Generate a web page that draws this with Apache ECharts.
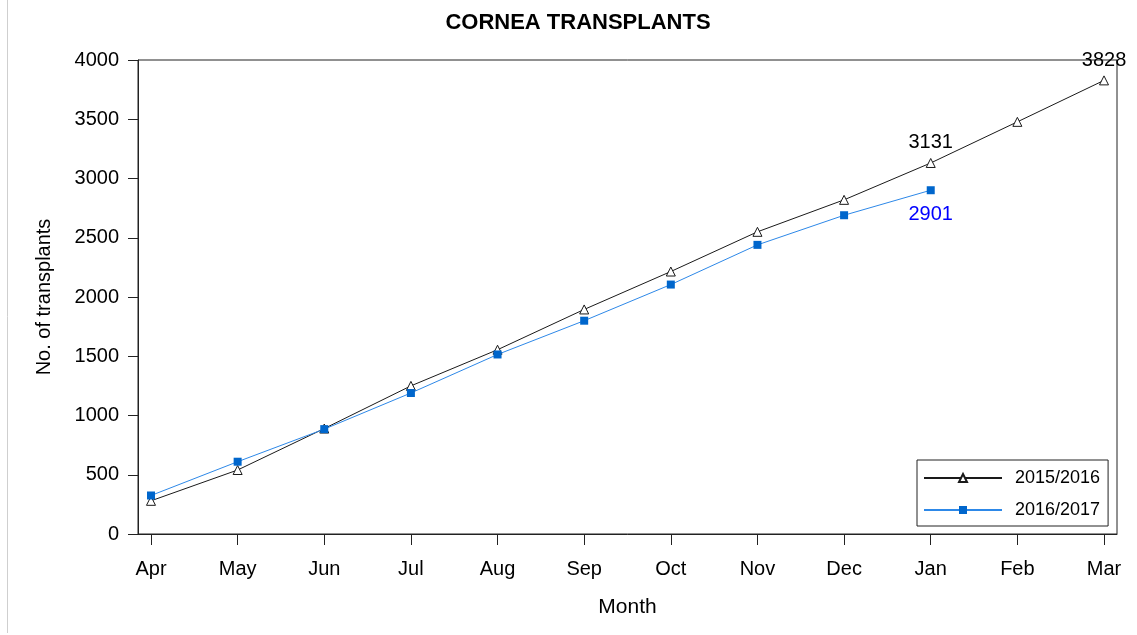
<!DOCTYPE html>
<html>
<head>
<meta charset="utf-8">
<script src="https://cdn.jsdelivr.net/npm/echarts@6/dist/echarts.min.js"></script>
<style>
  html, body { margin: 0; padding: 0; background: #fff; }
  #chart { width: 1137px; height: 635px; }
</style>
</head>
<body>
<div id="chart"></div>
<script>
const months = ["Apr", "May", "Jun", "Jul", "Aug", "Sep", "Oct", "Nov", "Dec", "Jan", "Feb", "Mar"]
const season1516 = [280, 540, 890, 1250, 1555, 1895, 2215, 2550, 2820, 3131, 3478, 3828]
const season1617 = [325, 610, 885, 1190, 1515, 1800, 2105, 2440, 2690, 2901]
const yTicks = [0, 500, 1000, 1500, 2000, 2500, 3000, 3500, 4000]
const labelled1516 = [9, 11]
const labelled1617 = [9]

const font = "Liberation Sans, Arial, sans-serif"
const chart = echarts.init(document.getElementById("chart"))

const toPoints = (arr, labelled, labelOpt) =>
	arr.map((v, i) => {
		if (labelled.includes(i)) {
			return { value: [i, v], label: Object.assign({ show: true }, labelOpt) }
		}
		return [i, v]
	})

let options = {
	animation: false,
	backgroundColor: "#fff",
	title: {
		text: "CORNEA TRANSPLANTS",
		left: 573,
		top: 7,
		textAlign: "center",
		textStyle: { fontFamily: font, fontSize: 22, fontWeight: "bold", color: "#000" },
	},
	// thin grey page edge on the left of the reference
	graphic: [
		{
			type: "line",
			shape: { x1: 7.5, y1: 0, x2: 7.5, y2: 633 },
			style: { stroke: "#cfcfcf", lineWidth: 1 },
			silent: true,
		},
	],
	grid: {
		left: 138,
		right: 20,
		top: 60,
		bottom: 101,
		show: true,
		borderColor: "#222",
		borderWidth: 1,
		backgroundColor: "transparent",
	},
	legend: {
		orient: "vertical",
		left: 917,
		top: 460,
		padding: [9, 8, 7, 6],
		itemGap: 14,
		itemWidth: 78,
		itemHeight: 10,
		borderColor: "#222",
		borderWidth: 1,
		backgroundColor: "#fff",
		textStyle: { fontFamily: font, fontSize: 18, color: "#000", padding: [0, 0, 0, 8] },
		data: ["2015/2016", "2016/2017"],
	},
	xAxis: {
		type: "value",
		min: -0.15,
		max: 11.15,
		name: "Month",
		nameLocation: "middle",
		nameGap: 63,
		nameTextStyle: { fontFamily: font, fontSize: 21, color: "#000" },
		splitLine: { show: false },
		axisLine: { onZero: false, lineStyle: { color: "#222" } },
		axisTick: { show: true, length: 11, inside: false, customValues: months.map((m, i) => i), lineStyle: { color: "#222" } },
		axisLabel: {
			customValues: months.map((m, i) => i),
			formatter: (v) => months[Math.round(v)],
			fontFamily: font,
			fontSize: 20,
			color: "#000",
			margin: 25,
		},
	},
	yAxis: {
		type: "value",
		min: 0,
		max: 4000,
		interval: 500,
		name: "No. of transplants",
		nameLocation: "middle",
		nameGap: 84,
		nameTextStyle: { fontFamily: font, fontSize: 20, color: "#000" },
		splitLine: { show: false },
		axisLine: { show: true, onZero: false, lineStyle: { color: "#222" } },
		axisTick: { show: true, length: 10, lineStyle: { color: "#222" } },
		axisLabel: {
			formatter: (v) => (yTicks.includes(v) ? String(v) : ""),
			fontFamily: font,
			fontSize: 20,
			color: "#000",
			margin: 19,
		},
	},
	series: [
		{
			name: "2015/2016",
			type: "line",
			symbol: "triangle",
			symbolSize: 9,
			showAllSymbol: true,
			lineStyle: { color: "#1a1a1a", width: 1 },
			itemStyle: { color: "#fff", borderColor: "#1a1a1a", borderWidth: 1 },
			data: toPoints(season1516, labelled1516, {
				position: "top",
				distance: 5,
				fontFamily: font,
				fontSize: 20,
				color: "#000",
			}),
			z: 2,
		},
		{
			name: "2016/2017",
			type: "line",
			symbol: "rect",
			symbolSize: 8,
			showAllSymbol: true,
			lineStyle: { color: "#2d88e8", width: 1 },
			itemStyle: { color: "#0066cc", borderWidth: 0 },
			data: toPoints(season1617, labelled1617, {
				position: "bottom",
				distance: 10,
				fontFamily: font,
				fontSize: 20,
				color: "#0000ff",
			}),
			z: 3,
		},
	],
}

chart.setOption(options)
</script>
</body>
</html>
